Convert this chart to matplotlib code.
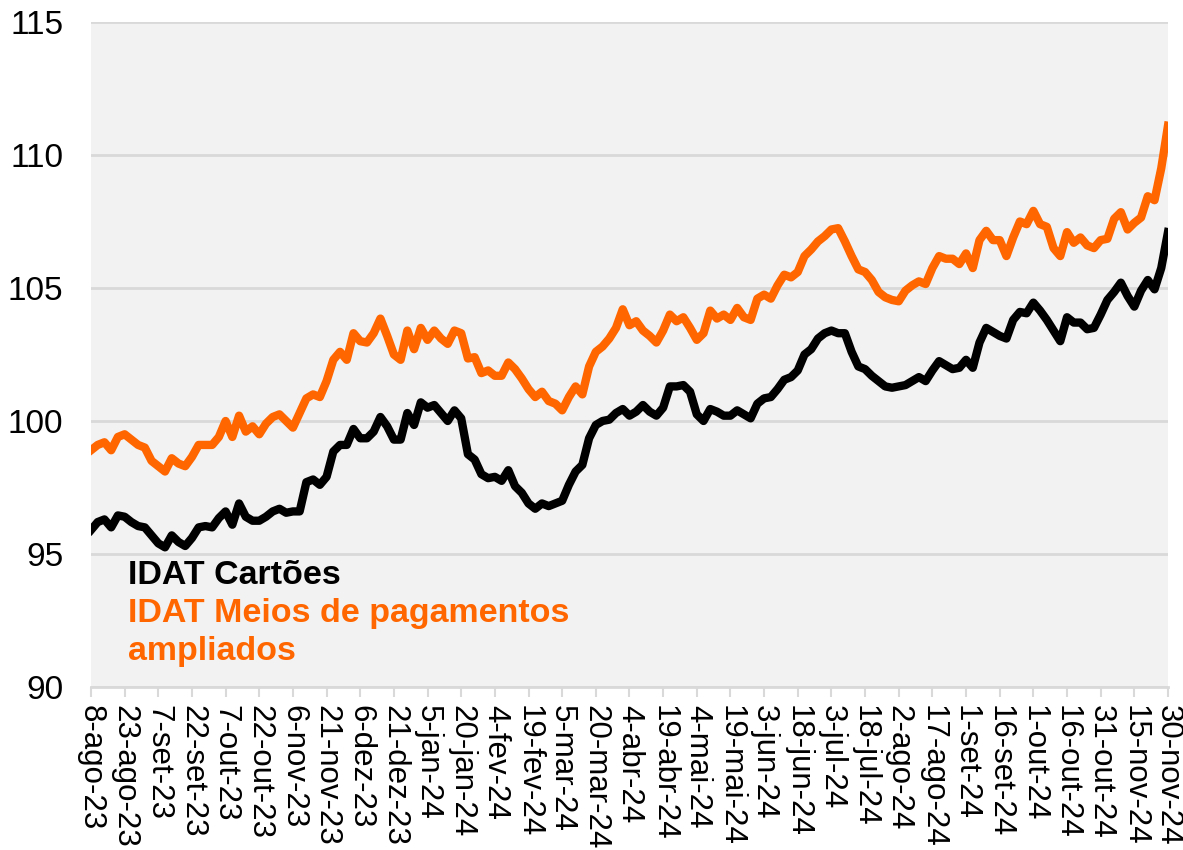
import matplotlib

matplotlib.use("Agg")
import matplotlib.pyplot as plt
import pandas as pd

# daily index sampled every 3 days, 8-ago-23 .. 30-nov-24
start = "2023-08-08"
end = "2024-11-30"
step_days = 3
tick_days = 15

meses = ["jan", "fev", "mar", "abr", "mai", "jun",
         "jul", "ago", "set", "out", "nov", "dez"]

meios = [
    98.9, 99.1, 99.2, 98.9, 99.4, 99.5, 99.3, 99.1, 99.0, 98.5,
    98.3, 98.1, 98.6, 98.4, 98.3, 98.65, 99.1, 99.1, 99.1, 99.4,
    100.0, 99.4, 100.2, 99.6, 99.8, 99.5, 99.9, 100.15, 100.25, 100.0,
    99.75, 100.3, 100.85, 101.0, 100.9, 101.5, 102.3, 102.6, 102.3, 103.3,
    103.0, 102.95, 103.3, 103.85, 103.2, 102.5, 102.3, 103.4, 102.7, 103.5,
    103.05, 103.4, 103.1, 102.9, 103.4, 103.3, 102.35, 102.4, 101.8, 101.9,
    101.7, 101.7, 102.2, 101.95, 101.6, 101.2, 100.9, 101.1, 100.75, 100.65,
    100.4, 100.9, 101.3, 101.0, 102.05, 102.6, 102.8, 103.1, 103.5, 104.2,
    103.6, 103.75, 103.4, 103.2, 102.95, 103.4, 104.0, 103.75, 103.9, 103.5,
    103.05, 103.3, 104.15, 103.85, 104.0, 103.8, 104.25, 103.9, 103.8, 104.6,
    104.75, 104.6, 105.1, 105.5, 105.4, 105.6, 106.2, 106.45, 106.75, 106.95,
    107.2, 107.25, 106.75, 106.2, 105.7, 105.6, 105.3, 104.85, 104.65, 104.55,
    104.5, 104.9, 105.1, 105.25, 105.15, 105.75, 106.2, 106.1, 106.1, 105.9,
    106.3, 105.75, 106.8, 107.15, 106.8, 106.8, 106.2, 106.9, 107.5, 107.4,
    107.9, 107.4, 107.3, 106.5, 106.2, 107.1, 106.7, 106.9, 106.6, 106.5,
    106.8, 106.85, 107.6, 107.85, 107.2, 107.45, 107.65, 108.45, 108.3, 109.5,
    111.1,
]

cartoes = [
    95.9, 96.2, 96.3, 96.0, 96.45, 96.4, 96.2, 96.05, 96.0, 95.7,
    95.4, 95.25, 95.7, 95.45, 95.3, 95.6, 96.0, 96.05, 96.0, 96.35,
    96.6, 96.1, 96.9, 96.4, 96.25, 96.25, 96.4, 96.6, 96.7, 96.55,
    96.6, 96.6, 97.7, 97.8, 97.6, 97.9, 98.85, 99.1, 99.1, 99.7,
    99.35, 99.35, 99.6, 100.15, 99.8, 99.3, 99.3, 100.3, 99.85, 100.7,
    100.5, 100.6, 100.3, 100.0, 100.4, 100.1, 98.75, 98.55, 98.0, 97.85,
    97.9, 97.75, 98.15, 97.55, 97.3, 96.9, 96.7, 96.9, 96.8, 96.9,
    97.0, 97.6, 98.1, 98.35, 99.35, 99.85, 100.0, 100.05, 100.3, 100.45,
    100.2, 100.35, 100.6, 100.35, 100.2, 100.5, 101.3, 101.3, 101.35, 101.1,
    100.25, 100.0, 100.45, 100.35, 100.2, 100.2, 100.4, 100.25, 100.1, 100.65,
    100.85, 100.9, 101.2, 101.55, 101.65, 101.9, 102.5, 102.7, 103.1, 103.3,
    103.4, 103.3, 103.3, 102.6, 102.05, 101.95, 101.7, 101.5, 101.3, 101.25,
    101.3, 101.35, 101.5, 101.65, 101.5, 101.9, 102.25, 102.1, 101.95, 102.0,
    102.3, 102.0, 102.95, 103.5, 103.35, 103.2, 103.1, 103.8, 104.1, 104.05,
    104.45, 104.15, 103.8, 103.4, 103.0, 103.9, 103.7, 103.7, 103.45, 103.5,
    104.0, 104.55, 104.85, 105.2, 104.7, 104.3, 104.9, 105.3, 104.95, 105.75,
    107.1,
]

dates = pd.date_range(start, end, freq=f"{step_days}D")
ticks = pd.date_range(start, end, freq=f"{tick_days}D")
labels = [f"{d.day}-{meses[d.month - 1]}-{d.strftime('%y')}" for d in ticks]

plt.rcParams["font.family"] = ["Liberation Sans", "DejaVu Sans"]

fig = plt.figure(figsize=(11.83, 8.5), dpi=100)
ax = fig.add_axes([0.0769, 0.1918, 0.9104, 0.7823])
ax.set_facecolor("#f2f2f2")

ax.plot(dates, meios, color="#ff6600", lw=6, solid_joinstyle="round")
ax.plot(dates, cartoes, color="black", lw=6, solid_joinstyle="round")

ax.set_ylim(90, 115)
ax.set_yticks(range(90, 116, 5))
ax.yaxis.grid(True, color="#d9d9d9", lw=2)
ax.set_axisbelow(True)

ax.set_xlim(dates[0], dates[-1])
ax.set_xticks(ticks)
ax.set_xticklabels(labels, rotation=-90, fontsize=22.5)

for side in ("left", "top", "right"):
    ax.spines[side].set_visible(False)
ax.spines["bottom"].set_color("#d9d9d9")
ax.spines["bottom"].set_linewidth(2)
ax.tick_params(axis="x", colors="#d9d9d9", labelcolor="black",
               length=7, width=1.5, pad=6)
ax.tick_params(axis="y", length=0, labelsize=24, pad=20)

ax.text(0.034, 0.168, "IDAT Cartões", transform=ax.transAxes,
        fontsize=24.5, fontweight="bold", color="black", va="center")
ax.text(0.034, 0.111, "IDAT Meios de pagamentos", transform=ax.transAxes,
        fontsize=24.5, fontweight="bold", color="#ff6600", va="center")
ax.text(0.034, 0.053, "ampliados", transform=ax.transAxes,
        fontsize=24.5, fontweight="bold", color="#ff6600", va="center")

fig.savefig("out.png", dpi=100)
plt.close(fig)
